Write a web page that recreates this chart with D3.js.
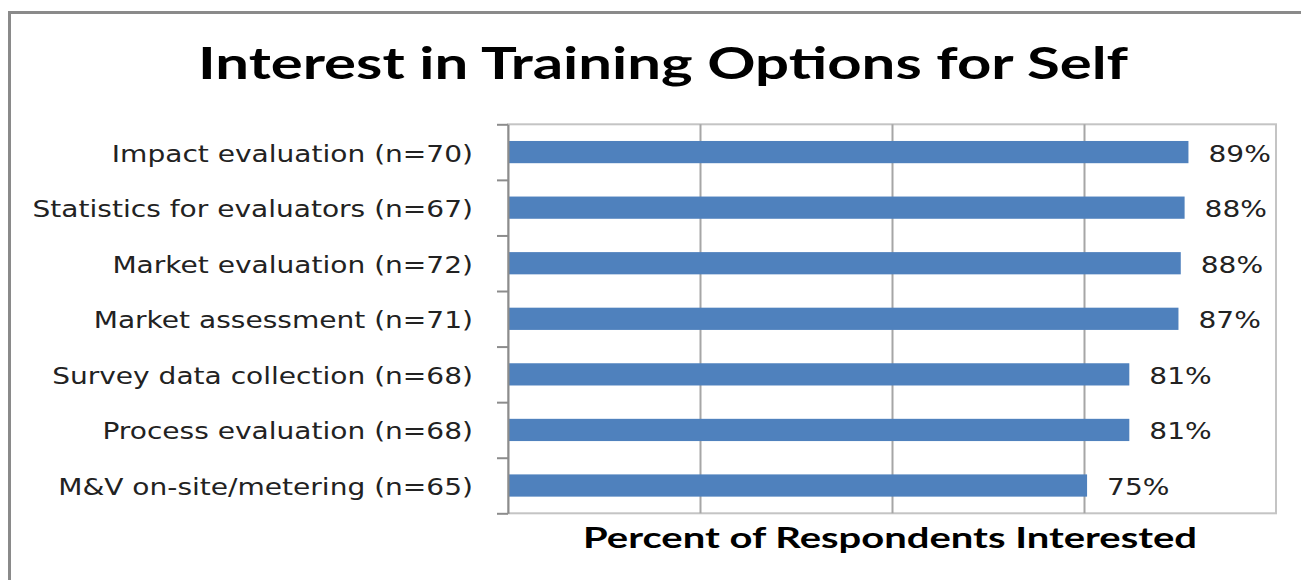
<!DOCTYPE html>
<html>
<head>
<meta charset="utf-8">
<script src="https://cdn.jsdelivr.net/npm/d3@7/dist/d3.min.js"></script>
<style>
  body { margin: 0; background: #fff; }
  svg { display: block; }
</style>
</head>
<body>
<svg id="chart" width="1301" height="580"></svg>
<script>
/* data */
var categories = [
  "Impact evaluation (n=70)",
  "Statistics for evaluators (n=67)",
  "Market evaluation (n=72)",
  "Market assessment (n=71)",
  "Survey data collection (n=68)",
  "Process evaluation (n=68)",
  "M&V on-site/metering (n=65)"
];
var values = [0.886, 0.881, 0.876, 0.873, 0.809, 0.809, 0.754];
var gridTicks = [0.25, 0.5, 0.75];
var chartTitle = "Interest in Training Options for Self";
var xTitle = "Percent of Respondents Interested";

// the source picture was stretched sideways, so text gets squashed back out
var SX = 1.22;
var plot = {left: 508, right: 1276, top: 124.3, bottom: 513.3};

var svg = d3.select("#chart");

// outer chart frame (only top/left edges show)
svg.append("rect")
  .attr("x", 9.5).attr("y", 12.5)
  .attr("width", 1400).attr("height", 700)
  .attr("fill", "#fff")
  .attr("stroke", "#8a8a8a")
  .attr("stroke-width", 3);

var x = d3.scaleLinear().domain([0, 1]).range([plot.left, plot.right]);
var y = d3.scaleBand().domain(categories)
  .range([plot.top, plot.bottom])
  .paddingInner(0.6).paddingOuter(0.3);

// plot area border
svg.append("rect")
  .attr("x", plot.left).attr("y", plot.top)
  .attr("width", plot.right - plot.left)
  .attr("height", plot.bottom - plot.top)
  .attr("fill", "none")
  .attr("stroke", "#c4c4c4")
  .attr("stroke-width", 2);

// vertical gridlines
var grid = svg.append("g")
  .attr("transform", "translate(0," + plot.bottom + ")")
  .call(d3.axisBottom(x).tickValues(gridTicks)
    .tickSize(-(plot.bottom - plot.top)).tickFormat(""));
grid.select(".domain").remove();
grid.selectAll("line").attr("stroke", "#a6a6a6").attr("stroke-width", 2);

// bars
svg.append("g").selectAll("rect")
  .data(values)
  .join("rect")
  .attr("x", x(0))
  .attr("y", function (d, i) { return y(categories[i]); })
  .attr("width", function (d) { return x(d) - x(0); })
  .attr("height", y.bandwidth())
  .attr("fill", "#4f81bd");

// category axis: line plus tick marks at the band boundaries
var edges = d3.scaleLinear().domain([0, categories.length]).range([plot.top, plot.bottom]);
var yTicks = svg.append("g")
  .attr("transform", "translate(" + plot.left + ",0)")
  .call(d3.axisLeft(edges).ticks(categories.length).tickFormat("")
    .tickSize(11).tickSizeOuter(0));
yTicks.selectAll("line, path").attr("stroke", "#8c8c8c").attr("stroke-width", 2);

// category labels
var yLab = svg.append("g")
  .attr("transform", "translate(" + plot.left + ",0)")
  .call(d3.axisLeft(y).tickSize(0).tickPadding(0));
yLab.select(".domain").remove();
yLab.selectAll("text")
  .attr("x", 0).attr("dy", "0.41em")
  .attr("transform", "translate(-35,0) scale(" + SX + ",1)")
  .attr("font-family", "DejaVu Sans")
  .attr("font-size", 23)
  .attr("fill", "#222");

// value labels
var fmt = d3.format(".0%");
svg.append("g").selectAll("text")
  .data(values)
  .join("text")
  .attr("transform", function (d, i) {
    return "translate(" + (x(d) + 20) + "," + (y(categories[i]) + y.bandwidth() / 2) + ") scale(" + SX + ",1)";
  })
  .attr("dy", "0.41em")
  .attr("font-family", "DejaVu Sans")
  .attr("font-size", 23)
  .attr("fill", "#222")
  .text(fmt);

// titles
svg.append("text")
  .attr("x", 198).attr("y", 79)
  .attr("font-family", "Lato")
  .attr("font-weight", 700)
  .attr("font-size", 43)
  .attr("textLength", 930)
  .attr("lengthAdjust", "spacingAndGlyphs")
  .attr("fill", "#000")
  .text(chartTitle);

svg.append("text")
  .attr("x", 583).attr("y", 548)
  .attr("font-family", "Lato")
  .attr("font-weight", 700)
  .attr("font-size", 28)
  .attr("textLength", 614)
  .attr("lengthAdjust", "spacingAndGlyphs")
  .attr("fill", "#000")
  .text(xTitle);
</script>
</body>
</html>
